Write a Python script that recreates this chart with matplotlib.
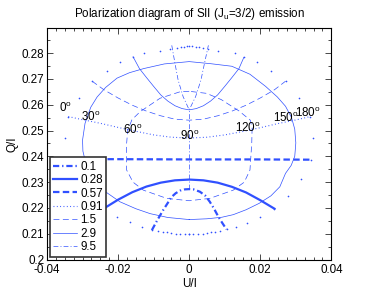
import matplotlib
matplotlib.use("Agg")
import matplotlib.pyplot as plt
from matplotlib.ticker import MultipleLocator, FuncFormatter

plt.rcParams['font.family'] = ['Liberation Sans', 'DejaVu Sans']
plt.rcParams['mathtext.fontset'] = 'custom'
plt.rcParams['mathtext.rm'] = 'Liberation Sans'
plt.rcParams['mathtext.it'] = 'Liberation Sans'
plt.rcParams['axes.unicode_minus'] = False

BLUE = '#3050ff'
FS = 8.4

# field strengths of the legend (one curve each, angle 0..180 deg)
b_labels = ['0.1', '0.28', '0.57', '0.91', '1.5', '2.9', '9.5']

u_b01 = [-0.0105, -0.0090, -0.0073, -0.0060, -0.0050, -0.0038, -0.0026, -0.0012, 0.0,
         0.0012, 0.0030, 0.0045, 0.0058, 0.0070, 0.0082, 0.0094, 0.0105]
q_b01 = [0.2114, 0.2152, 0.2192, 0.2220, 0.2242, 0.2257, 0.2267, 0.2272, 0.2273,
         0.2272, 0.2263, 0.2248, 0.2224, 0.2197, 0.2166, 0.2140, 0.2117]

u_b028 = [-0.0240, -0.0200, -0.0160, -0.0120, -0.0080, -0.0040, 0.0,
          0.0040, 0.0080, 0.0120, 0.0160, 0.0200, 0.0240]
q_b028 = [0.2198, 0.2232, 0.2261, 0.2283, 0.2298, 0.2307, 0.2310,
          0.2307, 0.2298, 0.2282, 0.2260, 0.2230, 0.2197]

u_b057 = [-0.0340, -0.0200, 0.0, 0.0200, 0.0343]
q_b057 = [0.2389, 0.2389, 0.2388, 0.2388, 0.2387]

u_b091 = [-0.034, -0.030, -0.025, -0.020, -0.015, -0.010, -0.005, 0.0,
          0.005, 0.010, 0.015, 0.020, 0.025, 0.030, 0.034]
q_b091 = [0.2554, 0.2542, 0.2528, 0.2512, 0.2497, 0.2483, 0.2474, 0.2471,
          0.2474, 0.2483, 0.2496, 0.2511, 0.2527, 0.2541, 0.2554]

u_b15 = [-0.0273, -0.0240, -0.0200, -0.0160, -0.0120, -0.0080, -0.0040, 0.0,
         0.0040, 0.0080, 0.0120, 0.0160, 0.0200, 0.0240, 0.0271]
q_b15 = [0.2691, 0.2658, 0.2626, 0.2598, 0.2575, 0.2557, 0.2544, 0.2540,
         0.2544, 0.2557, 0.2575, 0.2598, 0.2626, 0.2658, 0.2691]

u_b29 = [-0.0158, -0.0140, -0.0120, -0.0100, -0.0080, -0.0060, -0.0040, -0.0020, 0.0,
         0.0020, 0.0040, 0.0060, 0.0080, 0.0100, 0.0120, 0.0140, 0.0154]
q_b29 = [0.2786, 0.2740, 0.2705, 0.2671, 0.2638, 0.2614, 0.2596, 0.2585, 0.2580,
         0.2585, 0.2596, 0.2614, 0.2638, 0.2671, 0.2705, 0.2740, 0.2784]

u_b95 = [-0.0049, -0.0040, -0.0031, -0.0017, 0.0, 0.0018, 0.0033, 0.0043, 0.0054]
q_b95 = [0.2830, 0.2760, 0.2695, 0.2631, 0.2580, 0.2631, 0.2695, 0.2760, 0.2830]

# constant angle curves
# 0 deg (left) and 180 deg (right): only the sampled points show
u_a0 = [0.0, -0.0012, -0.0025, -0.0038, -0.0050, -0.0062, -0.0074, -0.0088, -0.0105,
        -0.0132, -0.0166, -0.0203, -0.0240, -0.0279, -0.0314, -0.0340, -0.0349,
        -0.0340, -0.0311, -0.0273, -0.0231, -0.0194, -0.0158, -0.0128, -0.0081,
        -0.0053, -0.0035, -0.0024, -0.0014, -0.0006, 0.0]
q_a0 = [0.2099, 0.2099, 0.2100, 0.2101, 0.2103, 0.2105, 0.2108, 0.2111, 0.2115,
        0.2127, 0.2147, 0.2166, 0.2198, 0.2246, 0.2311, 0.2389, 0.2471,
        0.2553, 0.2626, 0.2691, 0.2732, 0.2764, 0.2786, 0.2800, 0.2809,
        0.2816, 0.2821, 0.2823, 0.2825, 0.2826, 0.2826]
u_a180 = [0.0, 0.0012, 0.0025, 0.0038, 0.0050, 0.0062, 0.0074, 0.0088, 0.0105,
          0.0131, 0.0163, 0.0198, 0.0238, 0.0279, 0.0314, 0.0343, 0.0349,
          0.0340, 0.0309, 0.0271, 0.0231, 0.0192, 0.0154, 0.0128, 0.0081,
          0.0053, 0.0038, 0.0028, 0.0018, 0.0008]
q_a180 = [0.2099, 0.2099, 0.2100, 0.2101, 0.2103, 0.2105, 0.2108, 0.2111, 0.2117,
          0.2127, 0.2143, 0.2166, 0.2197, 0.2246, 0.2311, 0.2387, 0.2470,
          0.2554, 0.2626, 0.2691, 0.2732, 0.2764, 0.2784, 0.2800, 0.2809,
          0.2816, 0.2821, 0.2823, 0.2825, 0.2826]

# 30 deg (left half) and 150 deg (right half), closed loop
u_a30 = [0.0, -0.0060, -0.0110, -0.0150, -0.0195, -0.0242, -0.0262, -0.0280, -0.0292,
         -0.0299, -0.0300, -0.0293, -0.0277, -0.0259, -0.0235, -0.0203, -0.0168,
         -0.0128, -0.0070, 0.0,
         0.0060, 0.0120, 0.0171, 0.0215, 0.0248, 0.0271, 0.0288, 0.0297, 0.0300,
         0.0297, 0.0287, 0.0271, 0.0255, 0.0230, 0.0197, 0.0160, 0.0124, 0.0092,
         0.0050, 0.0]
q_a30 = [0.2155, 0.2163, 0.2178, 0.2197, 0.2224, 0.2269, 0.2300, 0.2340, 0.2380,
         0.2420, 0.2463, 0.2528, 0.2590, 0.2630, 0.2667, 0.2703, 0.2724,
         0.2740, 0.2758, 0.2767,
         0.2759, 0.2749, 0.2718, 0.2671, 0.2630, 0.2594, 0.2550, 0.2505, 0.2452,
         0.2400, 0.2365, 0.2334, 0.2282, 0.2247, 0.2218, 0.2193, 0.2174, 0.2164,
         0.2158, 0.2155]

# 60 deg (left half) and 120 deg (right half), closed loop
u_a60 = [0.0, -0.0026, -0.0082, -0.0138, -0.0161, -0.0173, -0.0176, -0.0176, -0.0176,
         -0.0158, -0.0129, -0.0063, 0.0,
         0.0058, 0.0124, 0.0155, 0.0171, 0.0176, 0.0177, 0.0172, 0.0140, 0.0090,
         0.0049, 0.0]
q_a60 = [0.2652, 0.2650, 0.2625, 0.2573, 0.2542, 0.2500, 0.2450, 0.2400, 0.2347,
         0.2300, 0.2269, 0.2237, 0.2228,
         0.2237, 0.2269, 0.2300, 0.2347, 0.2450, 0.2510, 0.2540, 0.2576, 0.2620,
         0.2644, 0.2652]

# 90 deg
u_a90 = [0.0, 0.0]
q_a90 = [0.2273, 0.2580]

# angle labels along the 0.91 curve
ang_labels = ['0', '30', '60', '90', '120', '150', '180']
ang_u = [-0.0347, -0.0276, -0.0158, 0.0002, 0.0165, 0.0272, 0.0334]
ang_q = [0.2587, 0.2552, 0.2502, 0.2479, 0.2510, 0.2548, 0.2568]


def make_axes():
    """Figure and axes with MATLAB like box"""
    fig = plt.figure(figsize=(3.74, 2.91), dpi=100)
    ax = fig.add_axes([0.1257, 0.108, 0.7603, 0.7947])
    ax.set_xlim(-0.04, 0.04)
    ax.set_ylim(0.2, 0.2896)
    ax.xaxis.set_major_locator(MultipleLocator(0.02))
    ax.xaxis.set_minor_locator(MultipleLocator(0.0025))
    ax.yaxis.set_major_locator(MultipleLocator(0.01))
    ax.yaxis.set_minor_locator(MultipleLocator(0.005))
    fmt = FuncFormatter(lambda v, p: '%g' % round(v, 4))
    ax.xaxis.set_major_formatter(fmt)
    ax.yaxis.set_major_formatter(fmt)
    ax.tick_params(which='both', direction='in', top=True, right=True,
                   labelsize=FS, width=0.5)
    ax.tick_params(which='major', length=4)
    ax.tick_params(which='minor', length=2)
    ax.tick_params(axis='y', pad=2)
    ax.tick_params(axis='x', pad=3.5)
    for s in ax.spines.values():
        s.set_linewidth(0.8)
    return fig, ax


fig, ax = make_axes()

# constant field curves
styles = [
    dict(lw=1.6, dashes=(2.8, 1.3, 0.6, 1.3)),
    dict(lw=1.6, ls='-'),
    dict(lw=1.6, dashes=(2.9, 1.5)),
    dict(lw=0.8, dashes=(0.8, 2.2)),
    dict(lw=0.5, dashes=(8.5, 5)),
    dict(lw=0.5, ls='-'),
    dict(lw=0.5, dashes=(7, 3, 1.5, 3)),
]
curves = [(u_b01, q_b01), (u_b028, q_b028), (u_b057, q_b057), (u_b091, q_b091),
          (u_b15, q_b15), (u_b29, q_b29), (u_b95, q_b95)]
handles = []
for (u, q), st, lab in zip(curves, styles, b_labels):
    h, = ax.plot(u, q, color=BLUE, label=lab, **st)
    handles.append(h)

# constant angle curves
ax.plot(u_a0, q_a0, '.', color=BLUE, ms=2.4, mew=0)
ax.plot(u_a180, q_a180, '.', color=BLUE, ms=2.4, mew=0)
ax.plot(u_a30, q_a30, color=BLUE, lw=0.5)
ax.plot(u_a60, q_a60, color=BLUE, lw=0.5, dashes=(8.5, 5))
ax.plot(u_a90, q_a90, color=BLUE, lw=0.5, dashes=(7, 3, 1.5, 3))

for lab, u, q in zip(ang_labels, ang_u, ang_q):
    ax.text(u, q, lab + r'$^{\mathrm{o}}$', fontsize=FS, ha='center', va='center')

leg = ax.legend(handles=handles, loc='lower left', fontsize=FS, borderaxespad=0.25,
                handlelength=2.0, handletextpad=0.3, labelspacing=0.12,
                borderpad=0.3, fancybox=False, framealpha=1)
leg.get_frame().set_edgecolor('#333333')
leg.get_frame().set_linewidth(1.2)

ax.set_title(r'Polarization diagram of SII (J$_{\mathrm{u}}$=3/2) emission', fontsize=FS, pad=8)
ax.set_xlabel('U/I', fontsize=FS, labelpad=1)
ax.set_ylabel('Q/I', fontsize=FS, labelpad=2)

plt.savefig('out.png', dpi=100)
